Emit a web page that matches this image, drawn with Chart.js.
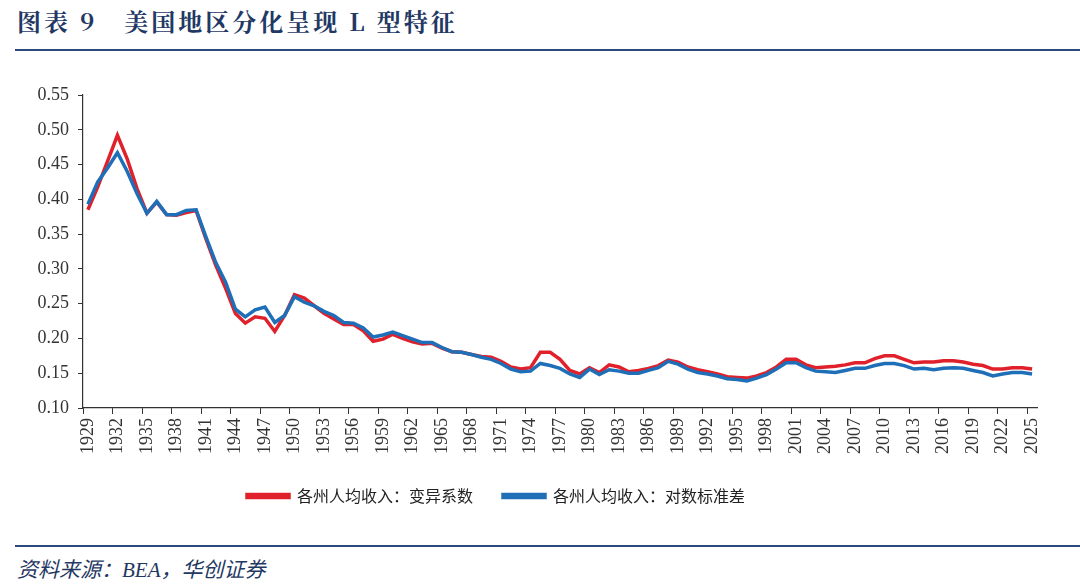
<!DOCTYPE html>
<html>
<head>
<meta charset="utf-8">
<script src="https://cdn.jsdelivr.net/npm/chart.js@4"></script>
<style>
  html, body { margin: 0; padding: 0; background: #fff; width: 1080px; height: 584px; overflow: hidden; }
  body { position: relative; }
  .title { position: absolute; left: 17px; top: 3px; font: bold 24px "Noto Serif CJK SC", "Liberation Serif", "Noto Sans CJK SC", serif; letter-spacing: 3px; color: #1f3864; white-space: pre; }
  .rule { position: absolute; left: 15px; right: 0; height: 2px; background: #2e4a7a; }
  .source { position: absolute; left: 17px; top: 553px; font: italic 21px "Liberation Serif", "Noto Sans CJK SC", serif; color: #1f3864; }
  #wrap { position: absolute; left: -45px; top: 70px; width: 1125px; height: 444px; }
</style>
</head>
<body>
<div class="title">图表 9   美国地区分化呈现 L 型特征</div>
<div class="rule" style="top:49px"></div>
<div id="wrap"><canvas id="chart"></canvas></div>
<div class="rule" style="top:545px"></div>
<div class="source">资料来源：BEA，华创证券</div>

<script>
const years = [
  '1929','1930','1931','1932','1933','1934','1935','1936','1937','1938',
  '1939','1940','1941','1942','1943','1944','1945','1946','1947','1948',
  '1949','1950','1951','1952','1953','1954','1955','1956','1957','1958',
  '1959','1960','1961','1962','1963','1964','1965','1966','1967','1968',
  '1969','1970','1971','1972','1973','1974','1975','1976','1977','1978',
  '1979','1980','1981','1982','1983','1984','1985','1986','1987','1988',
  '1989','1990','1991','1992','1993','1994','1995','1996','1997','1998',
  '1999','2000','2001','2002','2003','2004','2005','2006','2007','2008',
  '2009','2010','2011','2012','2013','2014','2015','2016','2017','2018',
  '2019','2020','2021','2022','2023','2024','2025'
];

// 各州人均收入：变异系数
const cvValues = [
  0.385, 0.418, 0.455, 0.492, 0.458, 0.415, 0.380, 0.396, 0.378, 0.377,
  0.381, 0.384, 0.343, 0.305, 0.272, 0.236, 0.222, 0.231, 0.229, 0.210,
  0.233, 0.263, 0.258, 0.247, 0.236, 0.228, 0.220, 0.220, 0.211, 0.196,
  0.199, 0.206, 0.200, 0.195, 0.192, 0.193, 0.186, 0.181, 0.180, 0.177,
  0.174, 0.173, 0.167, 0.159, 0.156, 0.158, 0.180, 0.180, 0.170, 0.154,
  0.149, 0.158, 0.151, 0.162, 0.159, 0.152, 0.154, 0.157, 0.161, 0.169,
  0.166, 0.159, 0.155, 0.152, 0.149, 0.145, 0.144, 0.143, 0.146, 0.151,
  0.159, 0.170, 0.170, 0.162, 0.158, 0.159, 0.160, 0.162, 0.165, 0.165,
  0.171, 0.175, 0.175, 0.170, 0.165, 0.166, 0.166, 0.168, 0.168, 0.166,
  0.163, 0.161, 0.156, 0.156, 0.158, 0.158, 0.156
];

// 各州人均收入：对数标准差
const logSdValues = [
  0.393, 0.425, 0.445, 0.467, 0.440, 0.408, 0.380, 0.397, 0.378, 0.378,
  0.384, 0.385, 0.346, 0.309, 0.281, 0.242, 0.231, 0.241, 0.245, 0.223,
  0.233, 0.260, 0.252, 0.247, 0.239, 0.233, 0.223, 0.222, 0.215, 0.202,
  0.205, 0.209, 0.204, 0.199, 0.194, 0.194, 0.187, 0.181, 0.180, 0.177,
  0.173, 0.170, 0.164, 0.156, 0.152, 0.153, 0.164, 0.161, 0.157, 0.149,
  0.144, 0.156, 0.148, 0.155, 0.153, 0.150, 0.150, 0.154, 0.158, 0.167,
  0.163, 0.156, 0.151, 0.149, 0.146, 0.142, 0.141, 0.139, 0.143, 0.148,
  0.156, 0.165, 0.165, 0.158, 0.153, 0.152, 0.151, 0.154, 0.157, 0.157,
  0.161, 0.164, 0.164, 0.161, 0.156, 0.157, 0.155, 0.157, 0.158, 0.157,
  0.154, 0.151, 0.146, 0.149, 0.151, 0.151, 0.149
];

const seriesNames = ['各州人均收入：变异系数', '各州人均收入：对数标准差'];
const yTicks = { min: 0.10, max: 0.55, step: 0.05 };

const axisColor = '#333';

new Chart(document.getElementById('chart'), {
  type: 'line',
  data: {
    labels: years,
    datasets: [
      {
        label: seriesNames[0],
        data: cvValues,
        borderColor: '#e0202a',
        backgroundColor: '#e0202a',
        borderWidth: 3.5,
        pointRadius: 0,
        tension: 0,
        order: 2
      },
      {
        label: seriesNames[1],
        data: logSdValues,
        borderColor: '#1f6fb8',
        backgroundColor: '#1f6fb8',
        borderWidth: 3.5,
        pointRadius: 0,
        tension: 0,
        order: 1
      }
    ]
  },
  options: {
    responsive: true,
    maintainAspectRatio: false,
    animation: false,
    layout: { padding: { left: 0, right: 43, top: 25, bottom: 0 } },
    plugins: {
      tooltip: { enabled: false },
      legend: {
        position: 'bottom',
        labels: {
          boxWidth: 42,
          boxHeight: 3,
          padding: 30,
          color: '#222',
          font: { family: '"Noto Sans CJK SC", sans-serif', size: 16 },
          sort: (a, b) => a.datasetIndex - b.datasetIndex
        }
      }
    },
    scales: {
      x: {
        offset: true,
        grid: {
          offset: true,
          drawOnChartArea: false,
          drawTicks: true,
          tickLength: 6,
          tickColor: ctx => (ctx.index % 3 === 0 ? axisColor : 'rgba(0,0,0,0)')
        },
        border: { color: axisColor, width: 1.2 },
        ticks: {
          autoSkip: false,
          minRotation: 90,
          maxRotation: 90,
          padding: 4,
          color: '#333',
          font: { family: '"Liberation Serif", serif', size: 18 },
          callback: function (val, i) { return i % 3 === 0 ? this.getLabelForValue(val) : ''; }
        },
        afterFit: scale => { scale.height = 50; }
      },
      y: {
        min: yTicks.min,
        max: yTicks.max,
        grid: { drawOnChartArea: false, drawTicks: true, tickLength: 5, tickColor: axisColor },
        border: { color: axisColor, width: 1.2 },
        ticks: {
          stepSize: yTicks.step,
          padding: 9,
          color: '#333',
          font: { family: '"Liberation Serif", serif', size: 18 },
          callback: v => v.toFixed(2)
        },
        afterFit: scale => { scale.width = 128; }
      }
    }
  }
});
</script>
</body>
</html>
